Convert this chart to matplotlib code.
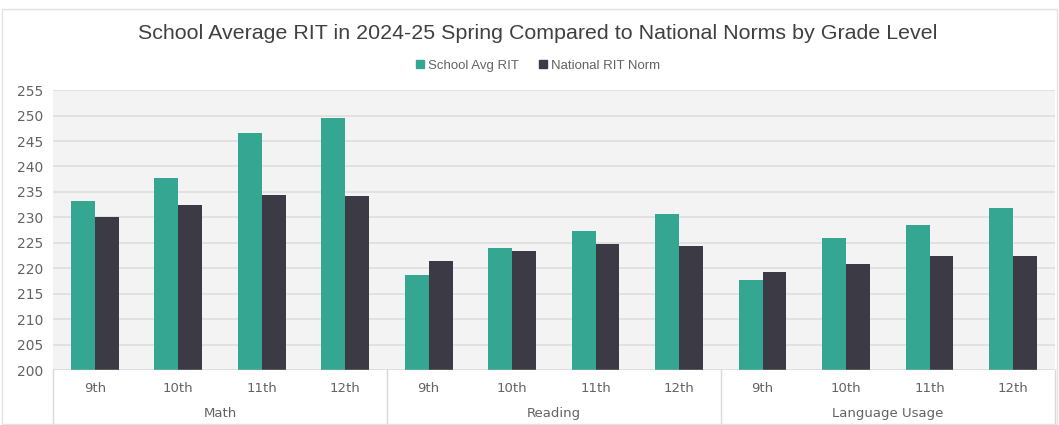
import matplotlib.pyplot as plt
import numpy as np
from matplotlib.patches import Patch, Rectangle

# values
subjects = ['Math', 'Reading', 'Language Usage']
grades = ['9th', '10th', '11th', '12th']
school_avg = [233.3, 237.7, 246.6, 249.5,
              218.6, 224.0, 227.3, 230.6,
              217.8, 226.0, 228.5, 231.9]
national_norm = [230.0, 232.4, 234.4, 234.2,
                 221.5, 223.5, 224.8, 224.4,
                 219.2, 220.9, 222.4, 222.4]

TEAL = '#35a692'
DARK = '#3b3a45'
GREY_TXT = '#636363'
LINE = '#d9d9d9'

plt.rcParams['font.family'] = ['Liberation Sans', 'DejaVu Sans']

fig = plt.figure(figsize=(10.59, 4.25), dpi=100)
fig.patches.append(Rectangle((0.002, 0.002), 0.996, 0.978, transform=fig.transFigure,
                             fill=False, edgecolor='#e3e3e3', linewidth=1))
ax = fig.add_axes([0.050, 0.129, 0.946, 0.659])
ax.set_facecolor('#f3f3f3')

n = len(school_avg)
x = np.arange(n)
w = 0.286
ax.bar(x - w / 2, school_avg, width=w, color=TEAL, zorder=3)
ax.bar(x + w / 2, national_norm, width=w, color=DARK, zorder=3)

ax.set_ylim(200, 255)
ax.set_yticks(np.arange(200, 256, 5))
ax.set_xlim(-0.5, n - 0.5)
ax.grid(axis='y', color='#dedede', linewidth=1.2, zorder=0)
for s in ax.spines.values():
    s.set_visible(False)
ax.axhline(200, color=LINE, linewidth=1, zorder=4)
ax.tick_params(axis='y', length=0, labelsize=10, labelcolor=GREY_TXT, pad=7)
ax.set_yticklabels([str(v) for v in range(200, 256, 5)], family='DejaVu Sans')
ax.set_xticks([])

# two-level category axis
trans = ax.get_xaxis_transform()
for i in range(n):
    ax.text(i, -0.065, grades[i % 4], transform=trans, ha='center', va='center',
            fontsize=9.5, color=GREY_TXT, family='DejaVu Sans')
for k, subj in enumerate(subjects):
    ax.text(k * 4 + 1.5, -0.155, subj, transform=trans, ha='center', va='center',
            fontsize=9.5, color=GREY_TXT, family='DejaVu Sans')
for b in [-0.5, 3.5, 7.5, 11.5]:
    ax.plot([b, b], [0, -0.2], transform=trans, color=LINE, linewidth=1, clip_on=False)

fig.text(0.508, 0.922, 'School Average RIT in 2024-25 Spring Compared to National Norms by Grade Level',
         ha='center', va='center', fontsize=15.4, color='#404040')
handles = [Patch(color=TEAL), Patch(color=DARK)]
fig.legend(handles, ['School Avg RIT', 'National RIT Norm'], loc='center', bbox_to_anchor=(0.508, 0.845),
           ncol=2, frameon=False, fontsize=9.5, handlelength=0.6, handleheight=0.6,
           handletextpad=0.3, columnspacing=1.5, labelcolor=GREY_TXT)

fig.savefig('out.png', dpi=100)
